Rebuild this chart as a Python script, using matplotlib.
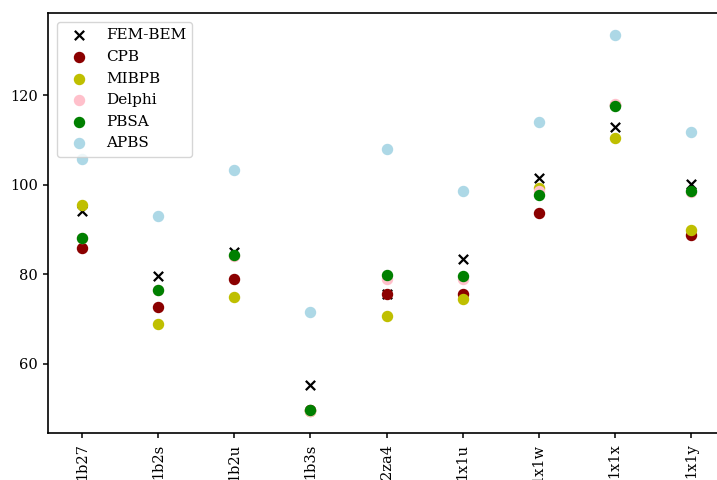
import matplotlib
matplotlib.use('Agg')
import matplotlib.pyplot as plt

proteins = ['1b27', '1b2s', '1b2u', '1b3s', '2za4', '1x1u', '1x1w', '1x1x', '1x1y']
fem_bem = [94.1, 79.6, 84.9, 55.3, 75.6, 83.4, 101.6, 112.8, 100.1]
cpb = [85.9, 72.6, 78.9, 49.8, 75.6, 75.6, 93.7, 117.7, 88.7]
mibpb = [95.5, 68.9, 74.9, 49.6, 70.7, 74.6, 99.2, 110.4, 89.8]
delphi = [88.0, 76.4, 84.0, 49.4, 79.0, 79.0, 98.7, 117.9, 98.4]
pbsa = [88.1, 76.5, 84.2, 49.7, 79.8, 79.7, 97.7, 117.6, 98.7]
apbs = [105.7, 93.1, 103.3, 71.7, 107.9, 98.7, 114.0, 133.4, 111.7]

plt.rcParams['font.family'] = 'DejaVu Serif'
plt.rcParams['font.size'] = 11

fig = plt.figure(figsize=(7.17, 4.8), dpi=100)
ax = fig.add_axes([48 / 717, 47 / 480, 677 / 717, 420 / 480])

x = range(len(proteins))
ms = 52
ax.scatter(x, fem_bem, marker='x', color='black', s=45, linewidths=1.6, label='FEM-BEM')
ax.scatter(x, cpb, color='darkred', s=ms, label='CPB')
ax.scatter(x, mibpb, color='y', s=ms, label='MIBPB')
ax.scatter(x, delphi, color='pink', s=ms, label='Delphi')
ax.scatter(x, pbsa, color='green', s=ms, label='PBSA')
ax.scatter(x, apbs, color='lightblue', s=ms, label='APBS')

ax.set_xticks(list(x))
ax.set_xticklabels(proteins, rotation=90)
ax.set_yticks([60, 80, 100, 120])
ax.set_xlim(-0.45, 8.45)
ax.set_ylim(44.6, 138.3)
ax.tick_params(width=1.1, length=3.6, labelsize=10.5)
ax.tick_params(axis='x', pad=4)
for sp in ax.spines.values():
    sp.set_linewidth(1.2)

ax.legend(loc='upper left', borderaxespad=0.6)

plt.savefig('out.png', dpi=100)
